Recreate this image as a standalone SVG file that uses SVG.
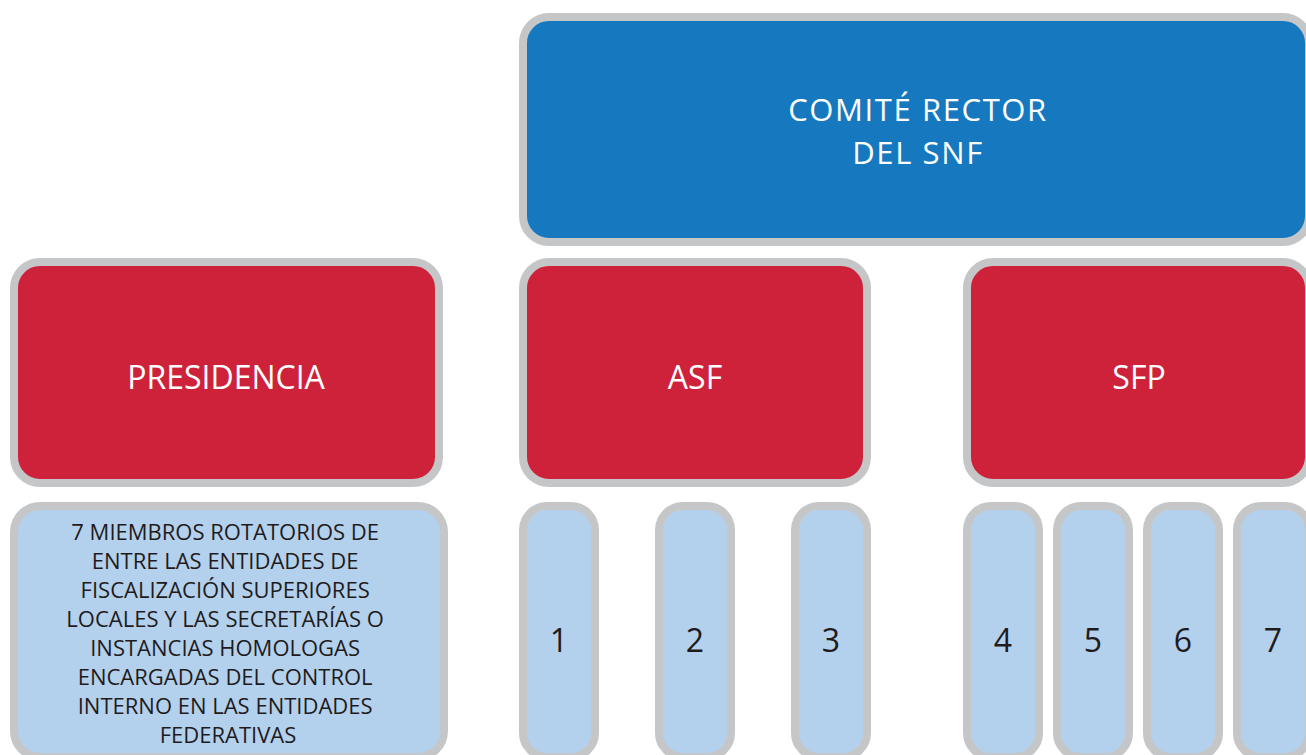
<svg xmlns="http://www.w3.org/2000/svg" width="1306" height="755" viewBox="0 0 1306 755">
<style>
.box{stroke:#c5c6c8;stroke-width:8}
.blue{fill:#1679bf}
.red{fill:#ce223b}
.light{fill:#b3d1ec}
.t{font-family:"Open Sans","Liberation Sans",sans-serif;text-anchor:middle}
.w{fill:#ffffff;font-size:32px}
.big{font-size:31px;letter-spacing:1.6px}
.d{fill:#1f1b1c}
.num{font-size:32px}
.small{font-size:22px}
</style>
<rect width="1306" height="755" fill="#ffffff"/>
<g id="connectors"></g>
<g id="comite">
<rect class="box blue" x="523" y="17" width="786" height="225" rx="26"/>
<text class="t w big" x="918"><tspan x="918" y="121">COMITÉ RECTOR</tspan><tspan x="918" y="164">DEL SNF</tspan></text>
</g>
<g id="presidencia">
<rect class="box red" x="14" y="262" width="425" height="221" rx="26"/>
<text class="t w" x="226" y="389">PRESIDENCIA</text>
</g>
<g id="asf">
<rect class="box red" x="523" y="262" width="344" height="221" rx="26"/>
<text class="t w" x="695" y="389">ASF</text>
</g>
<g id="sfp">
<rect class="box red" x="967" y="262" width="342" height="221" rx="26"/>
<text class="t w" x="1139" y="389">SFP</text>
</g>
<g id="miembros">
<rect class="box light" x="14" y="506" width="430" height="251" rx="26"/>
<text class="t d small" x="228">
<tspan x="228" y="540">7 MIEMBROS ROTATORIOS DE</tspan>
<tspan x="228" y="569">ENTRE LAS ENTIDADES DE</tspan>
<tspan x="228" y="598">FISCALIZACIÓN SUPERIORES</tspan>
<tspan x="228" y="627">LOCALES Y LAS SECRETARÍAS O</tspan>
<tspan x="228" y="656">INSTANCIAS HOMOLOGAS</tspan>
<tspan x="228" y="685">ENCARGADAS DEL CONTROL</tspan>
<tspan x="228" y="714">INTERNO EN LAS ENTIDADES</tspan>
<tspan x="228" y="743">FEDERATIVAS</tspan>
</text>
</g>
<g id="m1"><rect class="box light" x="523" y="506" width="72" height="251" rx="24"/><text class="t d num" x="559" y="652">1</text></g>
<g id="m2"><rect class="box light" x="659" y="506" width="72" height="251" rx="24"/><text class="t d num" x="695" y="652">2</text></g>
<g id="m3"><rect class="box light" x="795" y="506" width="72" height="251" rx="24"/><text class="t d num" x="831" y="652">3</text></g>
<g id="m4"><rect class="box light" x="967" y="506" width="72" height="251" rx="24"/><text class="t d num" x="1003" y="652">4</text></g>
<g id="m5"><rect class="box light" x="1057" y="506" width="72" height="251" rx="24"/><text class="t d num" x="1093" y="652">5</text></g>
<g id="m6"><rect class="box light" x="1147" y="506" width="72" height="251" rx="24"/><text class="t d num" x="1183" y="652">6</text></g>
<g id="m7"><rect class="box light" x="1237" y="506" width="72" height="251" rx="24"/><text class="t d num" x="1273" y="652">7</text></g>
</svg>
